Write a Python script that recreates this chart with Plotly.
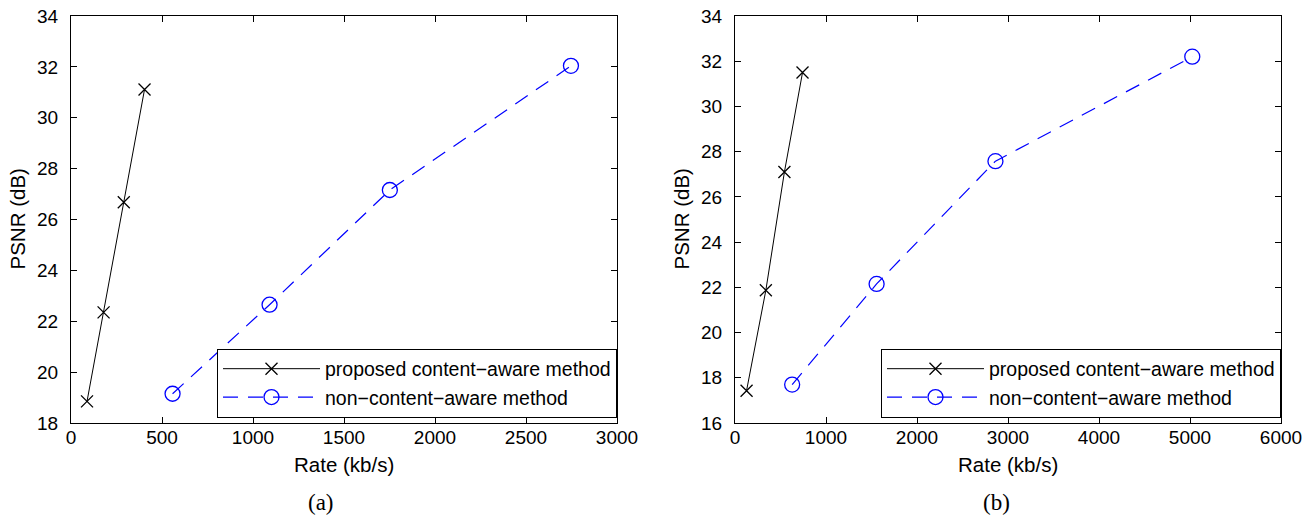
import plotly.graph_objects as go

# ---- data (a) ----
a_prop_rate = [88, 179, 290, 404]
a_prop_psnr = [18.85, 22.35, 26.68, 31.11]
a_non_rate = [558, 1091, 1752, 2747]
a_non_psnr = [19.15, 22.65, 27.16, 32.04]

# ---- data (b) ----
b_prop_rate = [127, 339, 543, 742]
b_prop_psnr = [17.43, 21.87, 27.10, 31.50]
b_non_rate = [628, 1556, 2862, 5025]
b_non_psnr = [17.70, 22.15, 27.58, 32.20]

a_xticks = [0, 500, 1000, 1500, 2000, 2500, 3000]
a_yticks = [18, 20, 22, 24, 26, 28, 30, 32, 34]
b_xticks = [0, 1000, 2000, 3000, 4000, 5000, 6000]
b_yticks = [16, 18, 20, 22, 24, 26, 28, 30, 32, 34]

names = ["proposed content\u2212aware method", "non\u2212content\u2212aware method"]

W, H = 1305, 516
FONT = "Liberation Sans, Arial, sans-serif"
FS_TICK = 19
FS_LEG = 19.5
FS_TITLE = 20.5

def px(x):
    return x / W

def py(y):
    return 1 - y / H

fig = go.Figure()

def add_pair(xp, yp, xn, yn, xa, ya, legend):
    fig.add_trace(go.Scatter(
        x=xp, y=yp, mode="lines+markers", name=names[0],
        line=dict(color="black", width=1),
        marker=dict(symbol="x-thin", size=12, line=dict(color="black", width=1.3)),
        xaxis=xa, yaxis=ya, legend=legend))
    fig.add_trace(go.Scatter(
        x=xn, y=yn, mode="lines+markers", name=names[1],
        line=dict(color="rgb(0,0,255)", width=1.2, dash="15px,10px"),
        marker=dict(symbol="circle-open", size=15, color="rgb(0,0,255)",
                    line=dict(color="rgb(0,0,255)", width=1.3)),
        xaxis=xa, yaxis=ya, legend=legend))

add_pair(a_prop_rate, a_prop_psnr, a_non_rate, a_non_psnr, "x", "y", "legend")
add_pair(b_prop_rate, b_prop_psnr, b_non_rate, b_non_psnr, "x2", "y2", "legend2")

ax_common = dict(showline=True, linecolor="black", linewidth=1, mirror="ticks",
                 ticks="inside", ticklen=6, tickcolor="black", tickwidth=1,
                 showgrid=False, zeroline=False, automargin=False,
                 tickfont=dict(family=FONT, size=FS_TICK, color="black"))

y_top, y_bot = 16, 423
leg_common = dict(xanchor="right", yanchor="bottom", bgcolor="white",
                  bordercolor="black", borderwidth=1,
                  font=dict(family=FONT, size=FS_LEG, color="black"),
                  itemwidth=97, tracegroupgap=0)
fig.update_layout(
    width=W, height=H, margin=dict(l=0, r=0, t=0, b=0, pad=0),
    paper_bgcolor="white", plot_bgcolor="white",
    xaxis=dict(domain=[px(71), px(617)], range=[0, 3000], tickvals=a_xticks,
               anchor="y", ticklabelstandoff=-3, **ax_common),
    yaxis=dict(domain=[py(y_bot), py(y_top)], range=[18, 34], tickvals=a_yticks,
               anchor="x", ticklabelstandoff=8, **ax_common),
    xaxis2=dict(domain=[px(735), px(1281)], range=[0, 6000], tickvals=b_xticks,
                anchor="y2", ticklabelstandoff=-3, **ax_common),
    yaxis2=dict(domain=[py(y_bot), py(y_top)], range=[16, 34], tickvals=b_yticks,
                anchor="x2", ticklabelstandoff=8, **ax_common),
    legend=dict(x=px(617), y=py(417.5), **leg_common),
    legend2=dict(x=px(1281), y=py(417.5), **leg_common),
)

ann = [
    dict(text="PSNR (dB)", x=px(17), y=py((y_top + y_bot) / 2), textangle=-90,
         font=dict(family=FONT, size=FS_TITLE, color="black")),
    dict(text="PSNR (dB)", x=px(681), y=py((y_top + y_bot) / 2), textangle=-90,
         font=dict(family=FONT, size=FS_TITLE, color="black")),
    dict(text="Rate (kb/s)", x=px(344), y=py(464),
         font=dict(family=FONT, size=FS_TITLE, color="black")),
    dict(text="Rate (kb/s)", x=px(1008), y=py(464),
         font=dict(family=FONT, size=FS_TITLE, color="black")),
    dict(text="(a)", x=px(321), y=py(502),
         font=dict(family="Liberation Serif, Times New Roman, serif", size=23, color="black")),
    dict(text="(b)", x=px(996), y=py(502),
         font=dict(family="Liberation Serif, Times New Roman, serif", size=23, color="black")),
]
for a in ann:
    a.update(xref="paper", yref="paper", showarrow=False, xanchor="center", yanchor="middle")
    fig.add_annotation(**a)

# remove the browser's default 8px body margin so the figure fills the window exactly
fig.write_html("out.html", config={"displayModeBar": False},
               post_script="document.body.style.margin='0px';")
